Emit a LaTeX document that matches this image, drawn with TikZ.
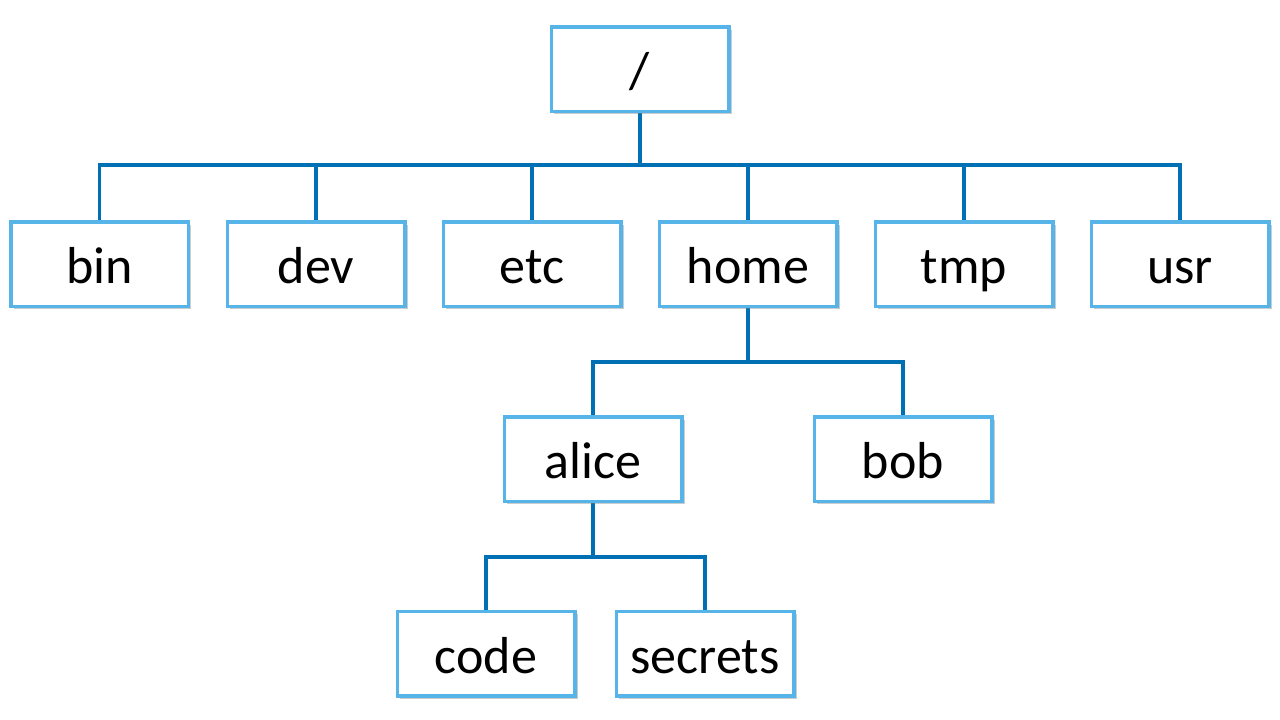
\documentclass[tikz,border=0pt]{standalone}
\usepackage{fontspec}
\setmainfont{Carlito}
\usetikzlibrary{shadows,backgrounds}
\definecolor{boxblue}{RGB}{86,180,233}
\definecolor{linkblue}{RGB}{0,112,180}
\tikzset{
  dirbox/.style={draw=boxblue, line width=3.5pt, fill=white, minimum width=177.5pt, minimum height=84.5pt,
    inner sep=0pt, font=\fontsize{52}{62}\selectfont, text height=39pt, text depth=0pt,
    drop shadow={shadow xshift=3pt, shadow yshift=-3pt, opacity=0.4, fill=gray}},
  conn/.style={draw=linkblue, line width=3.5pt}
}
\begin{document}
\begin{tikzpicture}[x=1pt,y=-1pt]
\useasboundingbox (0,0) rectangle (1280,720);
% boxes
\node[dirbox] (root) at (640,69) {/};
\node[dirbox] (bin) at (99.5,264) {bin};
\node[dirbox] (dev) at (316,264) {dev};
\node[dirbox] (etc) at (532,264) {etc};
\node[dirbox] (home) at (748,264) {home};
\node[dirbox] (tmp) at (964,264) {tmp};
\node[dirbox] (usr) at (1180,264) {usr};
\node[dirbox] (alice) at (593,459) {alice};
\node[dirbox] (bob) at (903,459) {bob};
\node[dirbox] (code) at (486,653.5) {code};
\node[dirbox] (secrets) at (705,653.5) {secrets};
% junction points
\coordinate (j0) at (640,165);
\coordinate (j1) at (748,362);
\coordinate (j2) at (593,557);
% connectors
\begin{scope}[on background layer]
\draw[conn] (root.south) -- (j0);
\foreach \c in {bin,dev,etc,home,tmp,usr}
  \draw[conn] (j0) -| (\c.north);
\draw[conn] (home.south) -- (j1);
\foreach \c in {alice,bob}
  \draw[conn] (j1) -| (\c.north);
\draw[conn] (alice.south) -- (j2);
\foreach \c in {code,secrets}
  \draw[conn] (j2) -| (\c.north);
\end{scope}
\end{tikzpicture}
\end{document}
